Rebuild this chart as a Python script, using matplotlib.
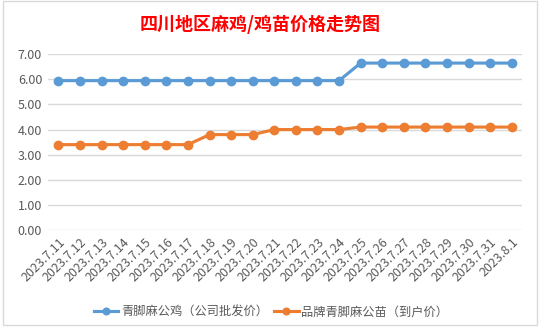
import matplotlib.pyplot as plt
from matplotlib.patches import Rectangle

plt.rcParams['font.family'] = ['Noto Sans CJK SC', 'DejaVu Sans']

dates = ["2023.7.11", "2023.7.12", "2023.7.13", "2023.7.14", "2023.7.15", "2023.7.16",
         "2023.7.17", "2023.7.18", "2023.7.19", "2023.7.20", "2023.7.21", "2023.7.22",
         "2023.7.23", "2023.7.24", "2023.7.25", "2023.7.26", "2023.7.27", "2023.7.28",
         "2023.7.29", "2023.7.30", "2023.7.31", "2023.8.1"]
chicken = [5.95] * 14 + [6.65] * 8
chick = [3.4] * 7 + [3.8] * 3 + [4.0] * 4 + [4.1] * 8
label_chicken = "青脚麻公鸡（公司批发价）"
label_chick = "品牌青脚麻公苗（到户价）"
title = "四川地区麻鸡/鸡苗价格走势图"

fig = plt.figure(figsize=(5.42, 3.29), dpi=100)
ax = fig.add_axes([0.088, 0.301, 0.876, 0.534])

# chart border like the excel frame
fig.patches.append(Rectangle((0.006, 0.012), 0.984, 0.985, transform=fig.transFigure,
                             fill=False, edgecolor="#d9d9d9", linewidth=1))

x = range(len(dates))
ax.plot(x, chicken, color="#5B9BD5", linewidth=2.25, marker="o", markersize=6,
        label=label_chicken)
ax.plot(x, chick, color="#ED7D31", linewidth=2.25, marker="o", markersize=6,
        label=label_chick)

ax.set_xlim(-0.5, len(dates) - 0.5)
ax.set_ylim(0, 7)
ax.set_yticks([i for i in range(8)])
ax.set_yticklabels([f"{i:.2f}" for i in range(8)], fontsize=9, color="#595959")
ax.set_xticks(list(x))
ax.set_xticklabels(dates, rotation=45, ha="right", rotation_mode="anchor",
                   fontsize=9, color="#595959")
ax.tick_params(length=0, pad=4)
ax.grid(axis="y", color="#d9d9d9", linewidth=1)
ax.set_axisbelow(True)
for s in ax.spines.values():
    s.set_visible(False)

fig.text(0.48, 0.927, title, ha="center", va="center", fontsize=13, fontweight="bold",
         color="#ff0000")

fig.legend(loc="center", bbox_to_anchor=(0.5, 0.052), ncol=2, frameon=False,
           fontsize=8.8, handlelength=2.0, columnspacing=0.5, handletextpad=0.2,
           markerscale=0.8, labelcolor="#595959")

fig.savefig("out.png", dpi=100)
